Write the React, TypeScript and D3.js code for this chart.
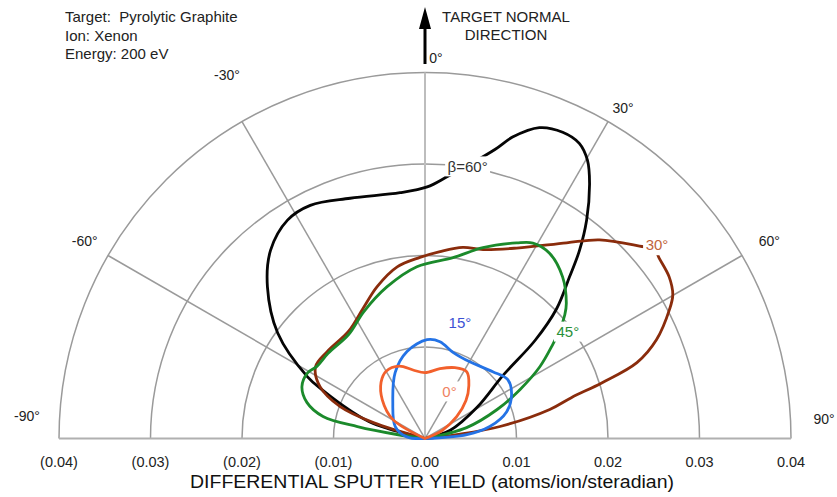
import React from "react";
import * as d3 from "d3";

// [polar angle from the target normal in degrees, differential yield in atoms/ion/sr]
type Pt = [number, number];

const betaLabels = ["0°", "15°", "30°", "45°", "β=60°"];

const yieldBeta0: Pt[] = [
  [-90, 0], [-59.3, 0.0041], [-47.8, 0.0063], [-38, 0.0078], [-30, 0.0085],
  [-19.5, 0.0084], [-9.9, 0.0076], [0, 0.0072], [12.1, 0.0078], [22.9, 0.0084],
  [32.1, 0.0086], [39.7, 0.0075], [47.2, 0.0061], [55.5, 0.0042], [64.8, 0.0021], [90, 0],
];

const yieldBeta15: Pt[] = [
  [-90, 0], [-85, 0.002], [-68.2, 0.0035], [-41.6, 0.0053], [-24.4, 0.0079],
  [-11.7, 0.0097], [1.2, 0.0108], [8.8, 0.0107], [18, 0.0099], [30.3, 0.0097],
  [45.4, 0.0104], [54.6, 0.0111], [63.2, 0.0106], [71.8, 0.0094], [79.5, 0.0072],
  [84.6, 0.0046], [90, 0],
];

const yieldBeta30: Pt[] = [
  [-90, 0], [-72.9, 0.0059], [-69.4, 0.0099], [-63.7, 0.0128], [-56.8, 0.0143],
  [-48.7, 0.0143], [-35.3, 0.0144], [-25.7, 0.0157], [-17.5, 0.0174], [-9.2, 0.019],
  [-1.6, 0.0198], [4.6, 0.0205], [11.2, 0.0213], [17.1, 0.0216], [25.7, 0.0231],
  [35.9, 0.0264], [41.3, 0.0289], [48.1, 0.0315], [50.5, 0.0325], [52.4, 0.0323],
  [56.5, 0.032], [59.9, 0.0313], [62.2, 0.0302], [66.9, 0.0275], [70.3, 0.0246],
  [72.5, 0.0203], [74.4, 0.0166], [76.9, 0.014], [80.9, 0.0083], [82.9, 0.0035], [90, 0],
];

const yieldBeta45: Pt[] = [
  [-90, 0], [-81.9, 0.0031], [-80, 0.0075], [-77.8, 0.0114], [-73, 0.0135],
  [-67.1, 0.0146], [-60.8, 0.0147], [-56.3, 0.0142], [-48.7, 0.0141], [-36.3, 0.0141],
  [-25.7, 0.0154], [-14, 0.0171], [-2.7, 0.0188], [8.8, 0.02], [16.9, 0.0218],
  [25.1, 0.0236], [28.9, 0.0244], [33.9, 0.0244], [40.4, 0.0232], [46.2, 0.0214],
  [48.5, 0.0204], [51, 0.019], [53.7, 0.0173], [58, 0.0148], [62.7, 0.0117],
  [68.1, 0.0085], [75.3, 0.0047], [90, 0],
];

const yieldBeta60: Pt[] = [
  [-90, 0], [-73.9, 0.0059], [-69.5, 0.0087], [-64.8, 0.0123], [-62.3, 0.0145],
  [-54.4, 0.0198], [-46.1, 0.0239], [-39.4, 0.0266], [-32.2, 0.0282], [-26.2, 0.0284],
  [-17.3, 0.0275], [-5.8, 0.027], [0.5, 0.0275], [4.8, 0.0287], [13.6, 0.0325],
  [16.2, 0.0343], [20.2, 0.0362], [24.2, 0.0367], [27.6, 0.0364], [30.3, 0.0352],
  [32.8, 0.0332], [36.5, 0.0297], [39.4, 0.0266], [41.8, 0.0237], [45.4, 0.0202],
  [48.3, 0.0161], [51, 0.011], [59.2, 0.0066], [72, 0.0029], [90, 0],
];

const tickValues = [-0.04, -0.03, -0.02, -0.01, 0, 0.01, 0.02, 0.03, 0.04];
const ringValues = [0.01, 0.02, 0.03, 0.04];
const spokeAngles = [-60, -30, 0, 30, 60];
const angleTicks = [-90, -60, -30, 0, 30, 60, 90];
const infoLines = ["Target:  Pyrolytic Graphite", "Ion: Xenon", "Energy: 200 eV"];
const normalLines = ["TARGET NORMAL", "DIRECTION"];
const axisTitle = "DIFFERENTIAL SPUTTER YIELD (atoms/ion/steradian)";

const W = 837;
const H = 497;
const CX = 425;
const CY = 438.5;
const R = 366;
const FONT = "'Liberation Sans', Arial, Helvetica, sans-serif";

const toRad = (deg: number) => (deg * Math.PI) / 180;

export default function App() {
  const r = d3.scaleLinear().domain([0, 0.04]).range([0, R]);
  const x = d3.scaleLinear().domain([-0.04, 0.04]).range([CX - R, CX + R]);
  const polar = (deg: number, rr: number): [number, number] => [
    CX + rr * Math.sin(toRad(deg)),
    CY - rr * Math.cos(toRad(deg)),
  ];

  const radial = d3
    .lineRadial<Pt>()
    .angle((d) => toRad(d[0]))
    .radius((d) => r(d[1]))
    .curve(d3.curveCatmullRom.alpha(0.5));

  const ringPath = (v: number) => {
    const p = d3.path();
    p.arc(CX, CY, r(v), -Math.PI, 0);
    return p.toString();
  };

  const series = [
    { label: betaLabels[4], data: yieldBeta60, color: "#050505", text: "#333333", at: [8.9, 0.0301] as Pt },
    { label: betaLabels[2], data: yieldBeta30, color: "#8a2c0c", text: "#c0653c", at: [50.2, 0.033] as Pt },
    { label: betaLabels[3], data: yieldBeta45, color: "#1b8a2b", text: "#2a9038", at: [53.2, 0.0195] as Pt },
    { label: betaLabels[1], data: yieldBeta15, color: "#2473e6", text: "#3b52d4", at: [16.8, 0.0132] as Pt },
    { label: betaLabels[0], data: yieldBeta0, color: "#f2602c", text: "#ef8262", at: [27.5, 0.0058] as Pt },
  ];

  // nudges that keep each angle label clear of the outer ring
  const angleLabelOffset: Record<number, [number, number]> = {
    [-90]: [-4, -22],
    [-60]: [1, 0],
    [-30]: [-1, -22],
    [0]: [11, 14],
    [30]: [1, 11],
    [60]: [3, 0],
    [90]: [5, -19],
  };

  return (
    <svg
      width={W}
      height={H}
      viewBox={`0 0 ${W} ${H}`}
      style={{ position: "absolute", left: 0, top: 0, background: "#fff" }}
      fontFamily={FONT}
    >
      <rect width={W} height={H} fill="#fff" />

      {/* rings */}
      {ringValues.map((v) => (
        <path key={v} d={ringPath(v)} fill="none" stroke="#9a9a9a" strokeWidth={1.5} />
      ))}

      {/* spokes */}
      {spokeAngles.map((a) => {
        const [x2, y2] = polar(a, R);
        return (
          <line
            key={a}
            x1={CX}
            y1={CY}
            x2={x2}
            y2={y2}
            stroke={a === 0 ? "#bdbdbd" : "#9a9a9a"}
            strokeWidth={a === 0 ? 2 : 1.5}
          />
        );
      })}

      {/* base line */}
      <line x1={CX - R} y1={CY} x2={CX + R} y2={CY} stroke="#b0b0b0" strokeWidth={2} />

      {/* sputter yield curves */}
      <g transform={`translate(${CX},${CY})`}>
        {series.map((s) => (
          <path
            key={s.label}
            d={radial(s.data) || ""}
            fill="none"
            stroke={s.color}
            strokeWidth={2.8}
            strokeLinejoin="round"
            strokeLinecap="round"
          />
        ))}
      </g>

      {/* curve labels */}
      {series.map((s) => {
        const [lx, ly] = polar(s.at[0], r(s.at[1]));
        const w = s.label.length * 8.6 + 2;
        return (
          <g key={s.label}>
            <rect x={lx - w / 2} y={ly - 10} width={w} height={20} fill="#fff" />
            <text x={lx} y={ly} dy="0.35em" textAnchor="middle" fontSize={15} fill={s.text}>
              {s.label}
            </text>
          </g>
        );
      })}

      {/* angle labels */}
      {angleTicks.map((a) => {
        const [px, py] = polar(a, R + 28);
        const [ox, oy] = angleLabelOffset[a] || [0, 0];
        return (
          <text
            key={a}
            x={px + ox}
            y={py + oy}
            dy="0.35em"
            textAnchor="middle"
            fontSize={14}
            fill="#222"
          >
            {`${a}°`}
          </text>
        );
      })}

      {/* yield tick labels */}
      {tickValues.map((v, i) => (
        <text key={i} x={x(v)} y={CY + 28} textAnchor="middle" fontSize={14.5} fill="#222">
          {v < 0 ? `(${Math.abs(v).toFixed(2)})` : v.toFixed(2)}
        </text>
      ))}

      {/* axis title */}
      <text
        x={432}
        y={CY + 49}
        textAnchor="middle"
        fontSize={17.5}
        fill="#111"
        textLength={484}
        lengthAdjust="spacingAndGlyphs"
      >
        {axisTitle}
      </text>

      {/* target normal arrow */}
      <line x1={CX} y1={64} x2={CX} y2={26} stroke="#000" strokeWidth={3} />
      <path d={`M${CX},7 L${CX - 6},29 L${CX + 6},29 Z`} fill="#000" />
      {normalLines.map((t, i) => (
        <text key={t} x={506} y={22 + i * 18} textAnchor="middle" fontSize={15} fill="#222">
          {t}
        </text>
      ))}

      {/* run conditions */}
      {infoLines.map((t, i) => (
        <text
          key={t}
          x={65}
          y={22 + i * 18.5}
          fontSize={15}
          fill="#222"
          style={{ whiteSpace: "pre" }}
        >
          {t}
        </text>
      ))}
    </svg>
  );
}
